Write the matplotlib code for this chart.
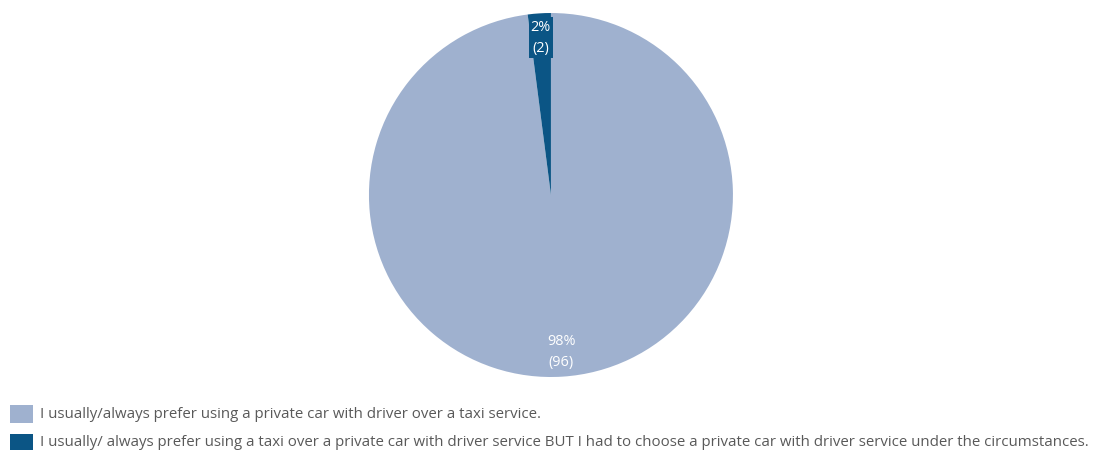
import numpy as np
import matplotlib.pyplot as plt
from matplotlib.patches import Rectangle

labels = [
    "I usually/always prefer using a private car with driver over a taxi service.",
    "I usually/ always prefer using a taxi over a private car with driver service BUT I had to choose a private car with driver service under the circumstances.",
]
counts = [96, 2]
percents = [98, 2]
colors = ["#9fb1cf", "#0b5585"]

plt.rcParams["font.family"] = ["Open Sans", "DejaVu Sans"]

fig = plt.figure(figsize=(11.01, 4.5), dpi=100)
ax = fig.add_axes([0.3351, 0.1622, 0.3306, 0.8089])

wedges, texts = ax.pie(counts, colors=colors, startangle=90, counterclock=False,
                       wedgeprops=dict(linewidth=0))
ax.set_aspect("equal")
ax.set_xlim(-1, 1)
ax.set_ylim(-1, 1)

for w, p, c, col in zip(wedges, percents, counts, colors):
    mid = np.deg2rad((w.theta1 + w.theta2) / 2)
    r = 0.865
    t = ax.text(r * np.cos(mid), r * np.sin(mid), f"{p}%\n({c})", ha="center", va="center",
                color="white", fontsize=10.4, linespacing=1.6)
    if p < 5:
        t.set_bbox(dict(facecolor=col, edgecolor="none", boxstyle="square,pad=0.15"))

# legend rows
for i, (lab, col) in enumerate(zip(labels, colors)):
    y = 414 + i * 29
    fig.patches.append(Rectangle((10 / 1101, 1 - (y + 9) / 450), 23 / 1101, 18 / 450,
                                 transform=fig.transFigure, facecolor=col, edgecolor="none"))
    fig.text(40 / 1101, 1 - y / 450, lab, ha="left", va="center", fontsize=10.85, color="#595959")

fig.savefig("out.png", dpi=100)
